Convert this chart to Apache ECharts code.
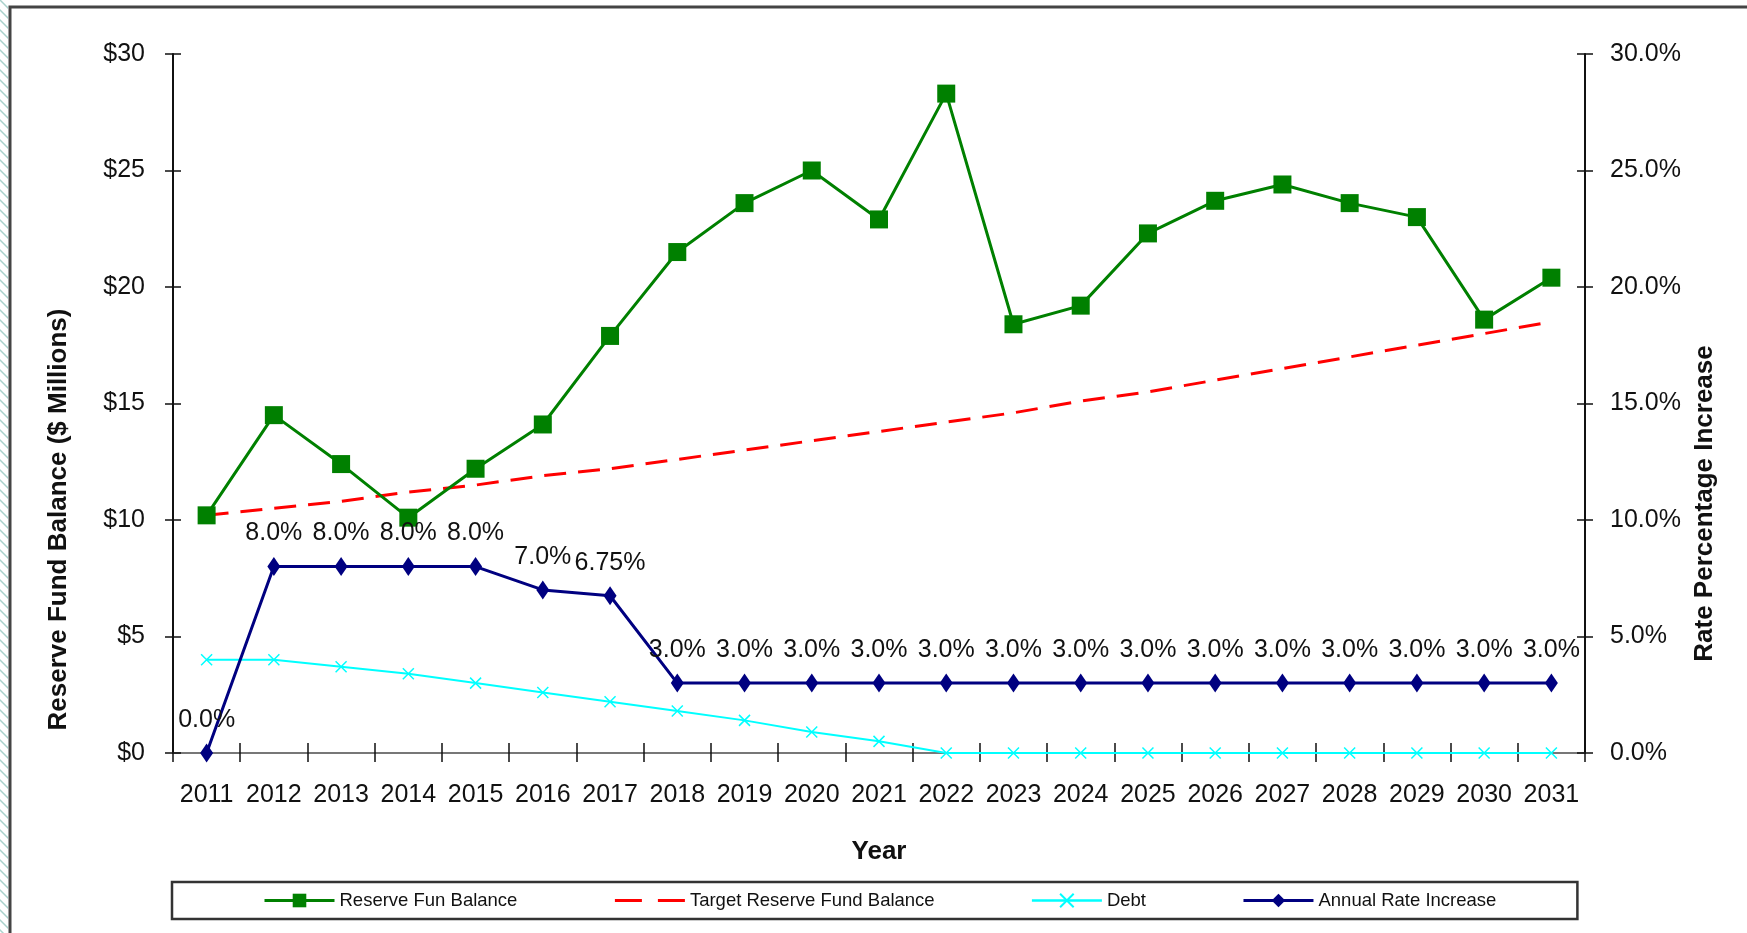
<!DOCTYPE html>
<html lang="en">
<head>
  <meta charset="UTF-8">
  <title>Reserve Fund Balance</title>
  <style>
    * { margin: 0; padding: 0; box-sizing: border-box; }
    body { width: 1747px; height: 933px; background: #fff; overflow: hidden; }
    #chart { width: 1747px; height: 933px; }
  </style>
</head>
<body>
  <div id="chart"></div>
  <script src="https://cdn.jsdelivr.net/npm/echarts@6/dist/echarts.min.js"></script>
  <script>
    // data
    const years = ['2011', '2012', '2013', '2014', '2015', '2016', '2017', '2018', '2019', '2020', '2021',
      '2022', '2023', '2024', '2025', '2026', '2027', '2028', '2029', '2030', '2031']
    const reserveBalance = [10.2, 14.5, 12.4, 10.1, 12.2, 14.1, 17.9, 21.5, 23.6, 25.0, 22.9,
      28.3, 18.4, 19.2, 22.3, 23.7, 24.4, 23.6, 23.0, 18.6, 20.4]
    const targetBalance = [10.2, 10.5, 10.8, 11.2, 11.5, 11.9, 12.2, 12.6, 13.0, 13.4, 13.8,
      14.2, 14.6, 15.1, 15.5, 16.0, 16.5, 17.0, 17.5, 18.0, 18.5]
    const debt = [4.0, 4.0, 3.7, 3.4, 3.0, 2.6, 2.2, 1.8, 1.4, 0.9, 0.5,
      0, 0, 0, 0, 0, 0, 0, 0, 0, 0]
    const rateIncrease = [0, 8, 8, 8, 8, 7, 6.75, 3, 3, 3, 3,
      3, 3, 3, 3, 3, 3, 3, 3, 3, 3]

    const font = 'Liberation Sans, Arial, sans-serif'

    // hatched strip at the left edge
    const hatch = document.createElement('canvas')
    hatch.width = 10
    hatch.height = 10
    const hctx = hatch.getContext('2d')
    hctx.strokeStyle = '#a9d2cc'
    hctx.lineWidth = 1.5
    hctx.beginPath()
    hctx.moveTo(0, 0); hctx.lineTo(10, 10)
    hctx.moveTo(-5, 5); hctx.lineTo(5, 15)
    hctx.moveTo(5, -5); hctx.lineTo(15, 5)
    hctx.stroke()

    const chart = echarts.init(document.getElementById('chart'))

    const tickStyle = { color: '#111', width: 1.5 }

    chart.setOption({
      animation: false,
      textStyle: { fontFamily: font },
      graphic: [
        { type: 'rect', shape: { x: 0, y: 0, width: 8, height: 933 }, style: { fill: { image: hatch, repeat: 'repeat' } }, silent: true },
        { type: 'rect', shape: { x: 10, y: 7, width: 2000, height: 2000 }, style: { fill: 'none', stroke: '#444', lineWidth: 3 }, silent: true }
      ],
      grid: { left: 173, right: 162, top: 54, bottom: 180, outerBoundsMode: 'none' },
      legend: {
        left: 172, top: 882,
        padding: [9, 81, 9, 91],
        itemGap: 96,
        itemWidth: 70, itemHeight: 17,
        borderColor: '#333', borderWidth: 2.5,
        textStyle: { fontSize: 18.5, color: '#111', fontFamily: font },
        data: [
          { name: 'Reserve Fun Balance', lineStyle: { width: 3 } },
          { name: 'Target Reserve Fund Balance', itemStyle: { opacity: 0 }, lineStyle: { type: [27, 16], width: 3 } },
          { name: 'Debt', lineStyle: { width: 2.5 } },
          { name: 'Annual Rate Increase', lineStyle: { width: 3 } }
        ]
      },
      xAxis: [
        {
          type: 'category', data: years, position: 'bottom',
          name: 'Year', nameLocation: 'middle', nameGap: 86,
          nameTextStyle: { fontSize: 26, fontWeight: 'bold', color: '#111' },
          axisLine: { show: true, lineStyle: { color: '#111', width: 2 } },
          axisTick: { show: true, length: 9, interval: 0, lineStyle: tickStyle },
          axisLabel: { fontSize: 25, color: '#111', margin: 30, interval: 0 },
          splitLine: { show: false }
        },
        {
          type: 'category', data: years, position: 'bottom',
          axisLine: { show: false },
          axisTick: { show: true, inside: true, length: 10, interval: 0, lineStyle: tickStyle },
          axisLabel: { show: false }, splitLine: { show: false }
        },
        {
          type: 'category', data: years, position: 'top',
          axisLine: { show: true, lineStyle: { color: '#999', width: 1.5 } },
          axisTick: { show: false },
          axisLabel: { show: false }, splitLine: { show: false }
        }
      ],
      yAxis: [
        {
          type: 'value', min: 0, max: 30, interval: 5, position: 'left',
          name: 'Reserve Fund Balance ($ Millions)', nameLocation: 'middle', nameGap: 101, nameRotate: 90,
          nameTextStyle: { fontSize: 26, fontWeight: 'bold', color: '#111', padding: [0, 232, 0, 0] },
          axisLine: { show: true, lineStyle: { color: '#111', width: 2 } },
          axisTick: { show: true, length: 8, lineStyle: tickStyle },
          axisLabel: { fontSize: 25, color: '#111', margin: 28, formatter: v => '$' + v },
          splitLine: { show: false }
        },
        {
          type: 'value', min: 0, max: 30, interval: 5, position: 'right',
          name: 'Rate Percentage Increase', nameLocation: 'middle', nameGap: 107, nameRotate: 90,
          nameTextStyle: { fontSize: 26, fontWeight: 'bold', color: '#111', padding: [0, 200, 0, 0] },
          axisLine: { show: true, lineStyle: { color: '#111', width: 2 } },
          axisTick: { show: true, length: 8, lineStyle: tickStyle },
          axisLabel: { fontSize: 25, color: '#111', margin: 25, formatter: v => v.toFixed(1) + '%' },
          splitLine: { show: false }
        },
        {
          type: 'value', min: 0, max: 30, interval: 5, position: 'left',
          axisLine: { show: false },
          axisTick: { show: true, inside: true, length: 8, lineStyle: tickStyle },
          axisLabel: { show: false }, splitLine: { show: false }
        },
        {
          type: 'value', min: 0, max: 30, interval: 5, position: 'right',
          axisLine: { show: false },
          axisTick: { show: true, inside: true, length: 8, lineStyle: tickStyle },
          axisLabel: { show: false }, splitLine: { show: false }
        }
      ],
      series: [
        {
          name: 'Reserve Fun Balance', type: 'line', data: reserveBalance,
          symbol: 'rect', symbolSize: 18,
          lineStyle: { color: '#008000', width: 3 },
          itemStyle: { color: '#008000' },
          z: 3
        },
        {
          name: 'Target Reserve Fund Balance', type: 'line', data: targetBalance,
          symbol: 'none',
          lineStyle: { color: '#ff0000', width: 3, type: [22, 12] },
          itemStyle: { color: '#ff0000' },
          z: 2
        },
        {
          name: 'Debt', type: 'line', data: debt,
          symbol: 'path://M0,0L10,10M10,0L0,10', symbolSize: 11,
          lineStyle: { color: '#00ffff', width: 2 },
          itemStyle: { color: '#00ffff', borderColor: '#00ffff', borderWidth: 1.5 },
          z: 2
        },
        {
          name: 'Annual Rate Increase', type: 'line', yAxisIndex: 1, data: rateIncrease,
          symbol: 'diamond', symbolSize: [13, 19],
          lineStyle: { color: '#000080', width: 3 },
          itemStyle: { color: '#000080' },
          label: {
            show: true, position: 'top', distance: 11,
            fontSize: 25, color: '#111', fontFamily: font,
            formatter: p => (Math.round(p.value * 10) === p.value * 10 ? p.value.toFixed(1) : p.value.toFixed(2)) + '%'
          },
          z: 4
        },
        // empty series only so that the tick-only axes are bound to the grid
        { type: 'line', xAxisIndex: 1, yAxisIndex: 2, data: [], silent: true },
        { type: 'line', xAxisIndex: 2, yAxisIndex: 3, data: [], silent: true }
      ]
    })
  </script>
</body>
</html>
